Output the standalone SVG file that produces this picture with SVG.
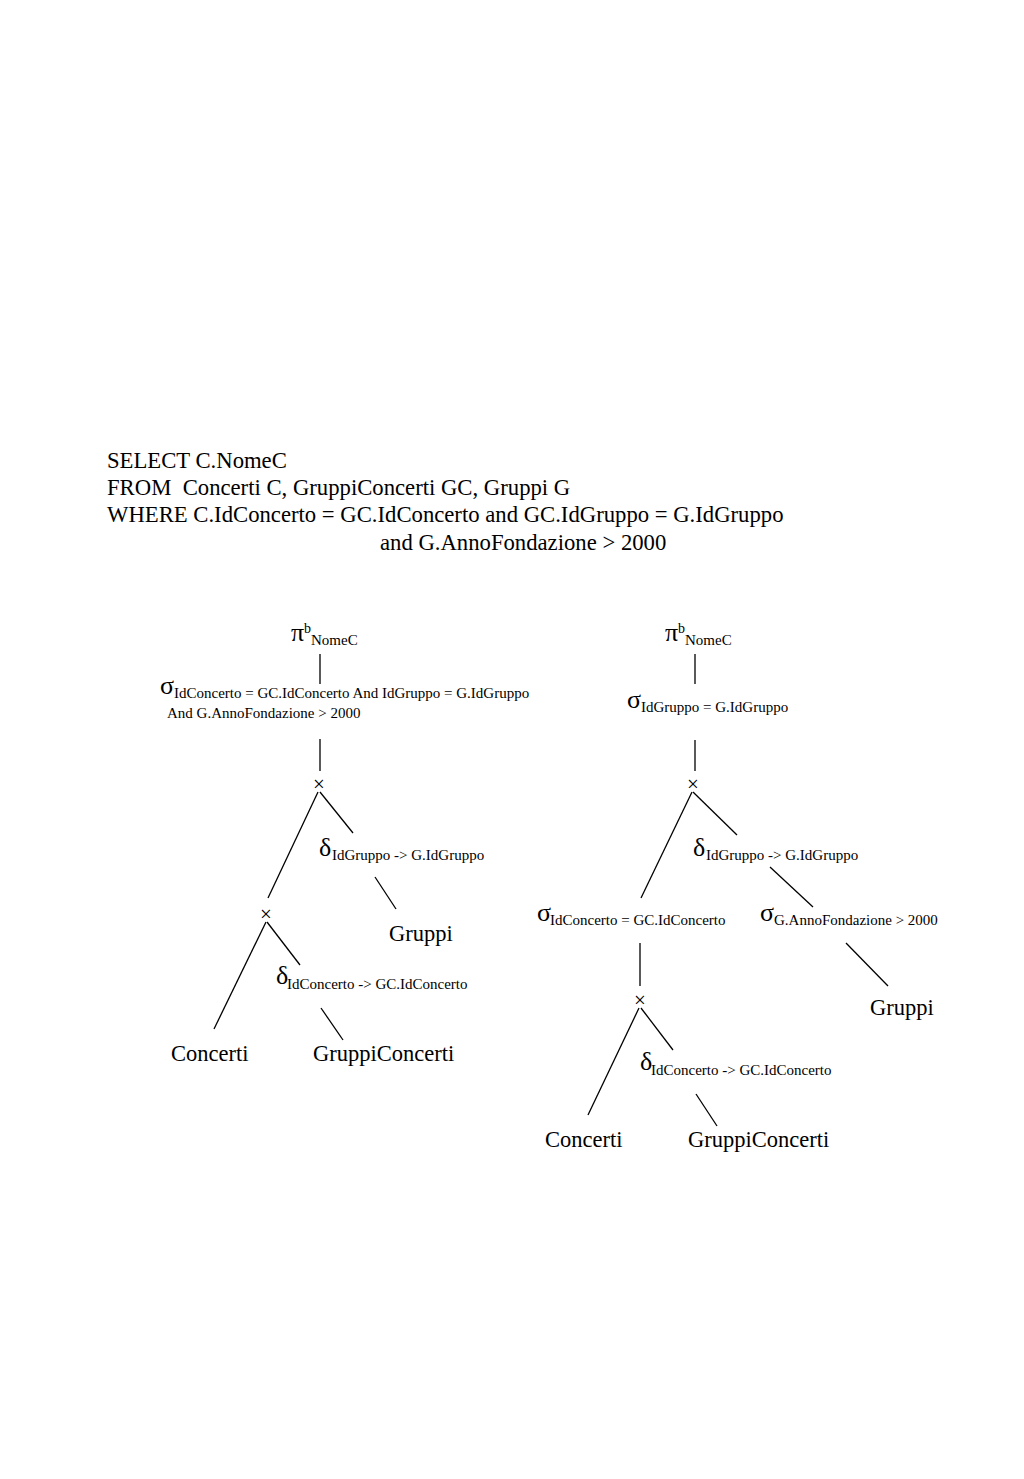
<svg xmlns="http://www.w3.org/2000/svg" width="1024" height="1479" viewBox="0 0 1024 1479">
<style>
text{font-family:"Liberation Serif","Times New Roman",serif;fill:#000}
.q{font-size:22.7px}
.big{font-size:22.5px}
.g{font-size:26px}
.s{font-size:15px}
.sup{font-size:14px}
.x{font-size:21px}
line{stroke:#000;stroke-width:1.3}
</style>
<rect width="1024" height="1479" fill="#fff"/>
<g id="query">
<text class="q" x="107" y="468">SELECT C.NomeC</text>
<text class="q" x="107" y="495" xml:space="preserve">FROM  Concerti C, GruppiConcerti GC, Gruppi G</text>
<text class="q" x="107" y="522">WHERE C.IdConcerto = GC.IdConcerto and GC.IdGruppo = G.IdGruppo</text>
<text class="q" x="380" y="550">and G.AnnoFondazione &gt; 2000</text>
</g>
<g id="connectors">
<line x1="320" y1="654" x2="320" y2="684"/>
<line x1="320" y1="739" x2="320" y2="771"/>
<line x1="318" y1="792" x2="268" y2="898"/>
<line x1="320" y1="792" x2="353" y2="833"/>
<line x1="375" y1="877" x2="396" y2="909"/>
<line x1="266" y1="922" x2="214" y2="1029"/>
<line x1="267" y1="922" x2="300" y2="965"/>
<line x1="321" y1="1008" x2="343" y2="1040"/>
<line x1="695" y1="654" x2="695" y2="684"/>
<line x1="695" y1="740" x2="695" y2="771"/>
<line x1="692" y1="792" x2="641" y2="898"/>
<line x1="693" y1="792" x2="737" y2="835"/>
<line x1="770" y1="867" x2="813" y2="907"/>
<line x1="846" y1="943" x2="888" y2="986"/>
<line x1="640" y1="943" x2="640" y2="986"/>
<line x1="639" y1="1008" x2="588" y2="1115"/>
<line x1="641" y1="1008" x2="673" y2="1050"/>
<line x1="696" y1="1094" x2="717" y2="1126"/>
</g>
<g id="L-pi">
<text class="g" x="291" y="641">π</text>
<text class="sup" x="304" y="633">b</text>
<text class="s" x="311" y="645">NomeC</text>
</g>
<g id="L-sigma">
<text class="g" x="160" y="694">σ</text>
<text class="s" x="174" y="698">IdConcerto = GC.IdConcerto And IdGruppo = G.IdGruppo</text>
<text class="s" x="167" y="718">And G.AnnoFondazione &gt; 2000</text>
</g>
<g id="L-x1"><text class="x" x="313" y="791">×</text></g>
<g id="L-delta1">
<text class="g" x="319" y="856">δ</text>
<text class="s" x="332" y="860">IdGruppo -&gt; G.IdGruppo</text>
</g>
<g id="L-gruppi"><text class="big" x="389" y="941">Gruppi</text></g>
<g id="L-x2"><text class="x" x="260" y="921">×</text></g>
<g id="L-delta2">
<text class="g" x="276" y="984">δ</text>
<text class="s" x="287" y="989">IdConcerto -&gt; GC.IdConcerto</text>
</g>
<g id="L-concerti"><text class="big" x="171" y="1061">Concerti</text></g>
<g id="L-gruppiconcerti"><text class="big" x="313" y="1061">GruppiConcerti</text></g>
<g id="R-pi">
<text class="g" x="665" y="641">π</text>
<text class="sup" x="678" y="633">b</text>
<text class="s" x="685" y="645">NomeC</text>
</g>
<g id="R-sigma">
<text class="g" x="627" y="708">σ</text>
<text class="s" x="641" y="712">IdGruppo = G.IdGruppo</text>
</g>
<g id="R-x1"><text class="x" x="687" y="791">×</text></g>
<g id="R-delta1">
<text class="g" x="693" y="856">δ</text>
<text class="s" x="706" y="860">IdGruppo -&gt; G.IdGruppo</text>
</g>
<g id="R-sigma2">
<text class="g" x="537" y="921">σ</text>
<text class="s" x="550" y="925">IdConcerto = GC.IdConcerto</text>
</g>
<g id="R-sigma3">
<text class="g" x="760" y="921">σ</text>
<text class="s" x="774" y="925">G.AnnoFondazione &gt; 2000</text>
</g>
<g id="R-gruppi"><text class="big" x="870" y="1015">Gruppi</text></g>
<g id="R-x2"><text class="x" x="634" y="1007">×</text></g>
<g id="R-delta2">
<text class="g" x="640" y="1070">δ</text>
<text class="s" x="651" y="1075">IdConcerto -&gt; GC.IdConcerto</text>
</g>
<g id="R-concerti"><text class="big" x="545" y="1147">Concerti</text></g>
<g id="R-gruppiconcerti"><text class="big" x="688" y="1147">GruppiConcerti</text></g>
</svg>
